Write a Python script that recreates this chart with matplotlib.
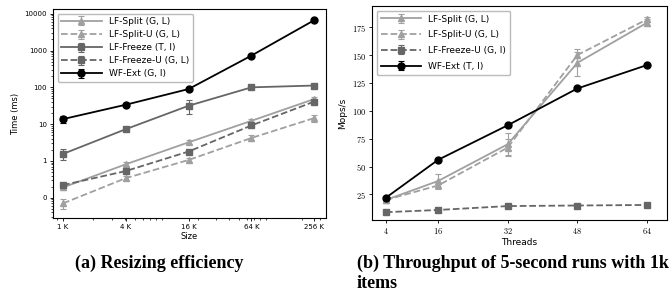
import matplotlib
matplotlib.use("Agg")
import matplotlib.pyplot as plt
from matplotlib.ticker import FixedLocator, FixedFormatter, LogLocator, NullFormatter

plt.rcParams['mathtext.fontset'] = 'cm'

# ---- data: left (resizing) ----
sizes = [1024, 4096, 16384, 65536, 262144]
size_labels = ["1 K", "4 K", "16 K", "64 K", "256 K"]
left_names = ["LF-Split (G, L)", "LF-Split-U (G, L)", "LF-Freeze (T, I)",
              "LF-Freeze-U (G, L)", "WF-Ext (G, I)"]
lf_split_t = [0.19, 0.81, 3.2, 12.3, 48]
lf_split_t_err = [0.03, 0.1, 0.4, 1.5, 6]
lf_split_u_t = [0.07, 0.34, 1.06, 4.2, 14.6]
lf_split_u_t_err = [0.02, 0.04, 0.15, 0.8, 3]
lf_freeze_t = [1.55, 7.3, 31.6, 100, 112]
lf_freeze_t_err = [0.5, 0.8, 13, 6, 6]
lf_freeze_u_t = [0.22, 0.53, 1.8, 9.2, 41]
lf_freeze_u_t_err = [0.03, 0.06, 0.2, 1.0, 4]
wf_ext_t = [13.7, 33.7, 90, 730, 6700]
wf_ext_t_err = [3, 3, 5, 30, 200]
y_ticks_left = [0.1, 1, 10, 100, 1000, 10000]
y_tick_labels_left = ["0", "1", "10", "100", "1000", "10000"]

# ---- data: right (throughput) ----
threads = [4, 16, 32, 48, 64]
right_names = ["LF-Split (G, L)", "LF-Split-U (G, L)", "LF-Freeze-U (G, I)", "WF-Ext (T, I)"]
lf_split_m = [20, 37, 70, 143, 179]
lf_split_m_err = [1, 6, 10, 12, 3]
lf_split_u_m = [20, 33, 67, 150, 182]
lf_split_u_m_err = [1, 3, 8, 3, 2]
lf_freeze_u_m = [9, 11, 14.5, 15, 15.5]
lf_freeze_u_m_err = [0.5, 0.5, 0.5, 0.5, 0.5]
wf_ext_m = [22, 56, 87, 120, 141]
wf_ext_m_err = [1, 1, 1, 1, 1]
y_ticks_right = [25, 50, 75, 100, 125, 150, 175]

LIGHT = "#a0a0a0"
DARK = "#666666"
BLACK = "#000000"

fig = plt.figure(figsize=(6.7, 2.95), dpi=100)
axL = fig.add_axes([53/670, 1-218/295, 273/670, 209/295])
axR = fig.add_axes([372/670, 1-220/295, 295/670, 214/295])

kw = dict(lw=1.3, ms=5, capsize=2.5, elinewidth=0.8, capthick=0.8)

axL.errorbar(sizes, lf_split_t, yerr=lf_split_t_err, color=LIGHT, marker='^', ls='-', label=left_names[0], **kw)
axL.errorbar(sizes, lf_split_u_t, yerr=lf_split_u_t_err, color=LIGHT, marker='^', ls='--', label=left_names[1], **kw)
axL.errorbar(sizes, lf_freeze_t, yerr=lf_freeze_t_err, color=DARK, marker='s', ls='-', label=left_names[2], **kw)
axL.errorbar(sizes, lf_freeze_u_t, yerr=lf_freeze_u_t_err, color=DARK, marker='s', ls='--', label=left_names[3], **kw)
axL.errorbar(sizes, wf_ext_t, yerr=wf_ext_t_err, color=BLACK, marker='o', ls='-', label=left_names[4], **kw)
axL.set_xscale('log')
axL.set_yscale('log')
axL.set_xlim(820, 340000)
axL.set_ylim(0.028, 13500)
axL.xaxis.set_major_locator(FixedLocator(sizes))
axL.xaxis.set_major_formatter(FixedFormatter(size_labels))
axL.xaxis.set_minor_locator(LogLocator(base=10, subs=range(2, 10), numticks=50))
axL.xaxis.set_minor_formatter(NullFormatter())
axL.yaxis.set_major_locator(FixedLocator(y_ticks_left))
axL.yaxis.set_major_formatter(FixedFormatter(y_tick_labels_left))
axL.yaxis.set_minor_locator(LogLocator(base=10, subs=range(2, 10), numticks=50))
axL.yaxis.set_minor_formatter(NullFormatter())
axL.tick_params(labelsize=5, length=2.5, width=0.6, pad=2)
axL.tick_params(which='minor', length=1.5, width=0.5)
axL.set_xlabel("Size", fontsize=6, labelpad=1)
axL.set_ylabel("Time (ms)", fontsize=6, labelpad=3)
axL.legend(loc='upper left', fontsize=6.5, handlelength=4.5, borderpad=0.4,
           labelspacing=0.45, handletextpad=0.8, framealpha=1, edgecolor='#bbbbbb')

axR.errorbar(threads, lf_split_m, yerr=lf_split_m_err, color=LIGHT, marker='^', ls='-', label=right_names[0], **kw)
axR.errorbar(threads, lf_split_u_m, yerr=lf_split_u_m_err, color=LIGHT, marker='^', ls='--', label=right_names[1], **kw)
axR.errorbar(threads, lf_freeze_u_m, yerr=lf_freeze_u_m_err, color=DARK, marker='s', ls='--', label=right_names[2], **kw)
axR.errorbar(threads, wf_ext_m, yerr=wf_ext_m_err, color=BLACK, marker='o', ls='-', label=right_names[3], **kw)
axR.set_xlim(0.8, 68.6)
axR.set_ylim(2, 194)
axR.set_xticks(threads)
axR.set_xticklabels([f"${t}$" for t in threads])
axR.set_yticks(y_ticks_right)
axR.set_yticklabels([f"${t}$" for t in y_ticks_right])
axR.tick_params(labelsize=6, length=2.5, width=0.6, pad=2)
axR.set_xlabel("Threads", fontsize=6.5, labelpad=1)
axR.set_ylabel("Mops/s", fontsize=6.5, labelpad=3)
axR.legend(loc='upper left', fontsize=6.5, handlelength=4.5, borderpad=0.45,
           labelspacing=0.75, handletextpad=0.8, framealpha=1, edgecolor='#bbbbbb')

for ax in (axL, axR):
    for s in ax.spines.values():
        s.set_linewidth(0.8)

cap = dict(fontsize=13, fontweight='bold', family='Liberation Serif', va='center', ha='left')
fig.text(75/670, 1-263/295, "(a) Resizing efficiency", **cap)
fig.text(357/670, 1-263/295, "(b) Throughput of 5-second runs with 1k", **cap)
fig.text(357/670, 1-284/295, "items", **cap)

fig.savefig("out.png", dpi=100)
